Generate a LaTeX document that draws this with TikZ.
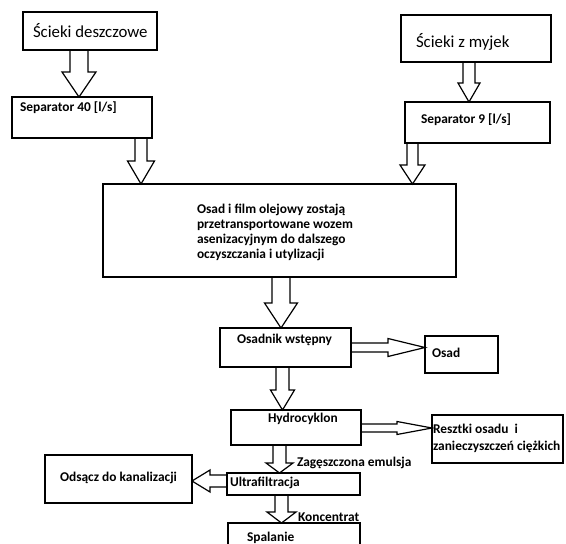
\documentclass[tikz,border=0pt]{standalone}
\usepackage{fontspec}
\setmainfont{Carlito}
\usetikzlibrary{calc}
\tikzset{
  box/.style={draw, line width=1.4pt, inner sep=0pt, outer sep=0pt},
  blk/.style={draw, line width=1.2pt, line join=miter},
  txt/.style={inner sep=0pt, outer sep=0pt, font=\bfseries\fontsize{13.4}{15}\selectfont, anchor=west},
  big/.style={inner sep=0pt, outer sep=0pt, font=\fontsize{16.8}{19}\selectfont, anchor=west}
}
% box: name, x1, y1, x2, y2
\newcommand\bx[5]{\node[box, minimum width={(#4-#2)*1pt}, minimum height={(#5-#3)*1pt}] (#1) at ({(#2+#4)/2},{(#3+#5)/2}) {};}
% down block arrow: source, target, x centre, shaft half, head half, head length
\newcommand\bdown[6]{\draw[blk] let \p1=(#1.south), \p2=(#2.north), \p3=(#3,0) in
  (\x3-#4pt,\y1) -- (\x3-#4pt,\y2+#6pt) -- (\x3-#5pt,\y2+#6pt) -- (\x3,\y2) -- (\x3+#5pt,\y2+#6pt) -- (\x3+#4pt,\y2+#6pt) -- (\x3+#4pt,\y1);}
% right block arrow: source, target, y centre, shaft half, head half, head length
\newcommand\bright[6]{\draw[blk] let \p1=(#1.east), \p2=(#2.west), \p3=(0,#3) in
  (\x1,\y3+#4pt) -- (\x2-#6pt,\y3+#4pt) -- (\x2-#6pt,\y3+#5pt) -- (\x2,\y3) -- (\x2-#6pt,\y3-#5pt) -- (\x2-#6pt,\y3-#4pt) -- (\x1,\y3-#4pt);}
% left block arrow
\newcommand\bleft[6]{\draw[blk] let \p1=(#1.west), \p2=(#2.east), \p3=(0,#3) in
  (\x1,\y3+#4pt) -- (\x2+#6pt,\y3+#4pt) -- (\x2+#6pt,\y3+#5pt) -- (\x2,\y3) -- (\x2+#6pt,\y3-#5pt) -- (\x2+#6pt,\y3-#4pt) -- (\x1,\y3-#4pt);}
\begin{document}
\begin{tikzpicture}[x=1pt,y=-1pt]
\useasboundingbox[fill=white] (0,0) rectangle (566,544);
\begin{scope}
\clip (0,0) rectangle (566,544);
% boxes
\bx{sd}{23}{12}{157}{50}
\bx{sm}{401}{15}{551}{62}
\bx{s40}{12}{97}{152}{138}
\bx{s9}{405}{102}{550}{143}
\bx{bg}{103}{184}{456}{277}
\bx{os}{220}{328}{351}{367}
\bx{osad}{425}{336}{498}{373}
\bx{hy}{231}{410}{361}{445}
\bx{rz}{432}{415}{563}{463}
\bx{odp}{45}{455}{192}{503}
\bx{uf}{227}{473}{360}{495}
\bx{sp}{228}{523}{360}{550}
% texts
\node[big] (tsd) at (33,31) {Ścieki deszczowe};
\node[big] (tsm) at (416,42) {Ścieki z myjek};
\node[txt] (ts40) at (20,108) {Separator 40 [l/s]};
\node[txt] (ts9) at (421,120) {Separator 9 [l/s]};
\node[txt, align=left] (tbg) at (197,232.5) {Osad i film olejowy zostają\\przetransportowane wozem\\asenizacyjnym do dalszego\\oczyszczania i utylizacji};
\node[txt] (tos) at (237,340) {Osadnik wstępny};
\node[txt] (tosad) at (432,353) {Osad};
\node[txt] (thy) at (268,419) {Hydrocyklon};
\node[txt, align=left, font=\bfseries\fontsize{13.4}{17}\selectfont] (trz) at (433,438.5) {Resztki osadu\ \ i\\zanieczyszczeń ciężkich};
\node[txt, anchor=center] (todp) at (118.5,478) {Odsącz do kanalizacji};
\node[txt] (tuf) at (230,483) {Ultrafiltracja};
\node[txt] (tsp) at (247,538) {Spalanie};
\node[txt] (lze) at (297,463) {Zagęszczona emulsja};
\node[txt] (lko) at (298,517) {Koncentrat};
% block arrows
\bdown{sd}{s40}{79}{9}{17}{25}
\bdown{s40}{bg}{141}{6}{13.5}{23}
\bdown{sm}{s9}{469}{6}{11}{19}
\bdown{s9}{bg}{412.5}{5.5}{12.5}{19}
\bdown{bg}{os}{281}{9}{16.5}{25}
\bdown{os}{hy}{282.5}{6.5}{12}{20}
\bright{os}{osad}{347.5}{4.5}{9}{37}
\bright{hy}{rz}{428}{4}{6.5}{35}
\bdown{hy}{uf}{279.5}{6.5}{13.5}{10}
\bleft{uf}{odp}{481}{6}{11}{18}
\bdown{uf}{sp}{281.5}{6.5}{14.5}{11}
\end{scope}
\end{tikzpicture}
\end{document}
